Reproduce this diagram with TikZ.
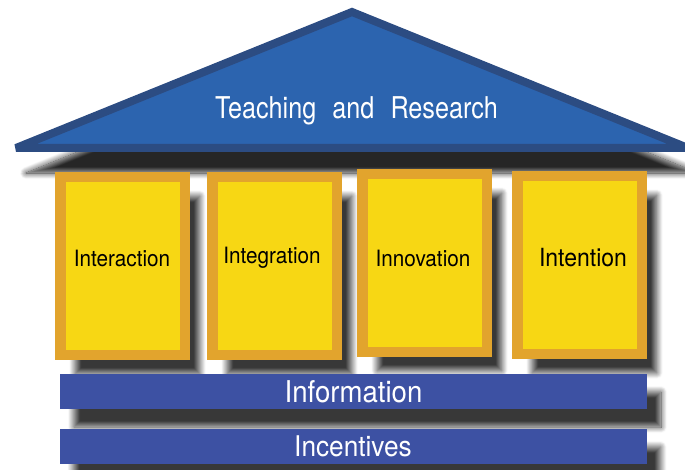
\documentclass[tikz,border=0pt]{standalone}
\usepackage{fontspec}
\usetikzlibrary{shadows.blur}
\newfontfamily\rooffont{TeX Gyre Heros}[FakeStretch=0.84,WordSpace=2.3]
\newfontfamily\pillarfont{TeX Gyre Heros}[FakeStretch=0.92]
\definecolor{roofblue}{RGB}{44,100,175}
\definecolor{roofedge}{RGB}{44,76,130}
\definecolor{pillarorange}{RGB}{226,164,45}
\definecolor{pillaryellow}{RGB}{247,215,20}
\definecolor{barblue}{RGB}{61,81,163}

\tikzset{
  roofshadow/.style={blur shadow={shadow xshift=10pt, shadow yshift=-25pt, shadow blur radius=6pt, shadow blur steps=12, shadow opacity=85}},
  barshadow/.style={blur shadow={shadow xshift=14pt, shadow yshift=-18pt, shadow blur radius=6pt, shadow blur steps=12, shadow opacity=78}},
  pillarshadow/.style={blur shadow={shadow xshift=15pt, shadow yshift=-19pt, shadow blur radius=6pt, shadow blur steps=12, shadow opacity=78}},
  pillar/.style={pillarshadow, draw=pillarorange, line width=10.5pt, fill=pillaryellow, minimum width=124.5pt, minimum height=177.5pt, inner sep=0pt},
  pillarlabel/.style={anchor=base, font=\pillarfont\fontsize{22.5}{27}\selectfont},
  bar/.style={barshadow, fill=barblue, minimum width=587pt, minimum height=35pt, inner sep=0pt, text=white, font=\pillarfont\fontsize{30}{36}\selectfont},
}

\begin{document}
\begin{tikzpicture}[x=1pt, y=-1pt]
\useasboundingbox (0,0) rectangle (685,470);

% Roof
\draw[roofshadow, draw=roofedge, fill=roofblue, line width=8pt, line join=miter, miter limit=2]
  (16,148) -- (352,12) -- (688,148) -- cycle;
\node[anchor=base, text=white, font=\rooffont\fontsize{30}{36}\selectfont] (roof) at (356.5,119) {Teaching and Research};

% Pillars
\node[pillar] (interaction) at (122.5,266) {};
\node[pillar] (integration) at (274.5,266) {};
\node[pillar] (innovation) at (424.5,263) {};
\node[pillar] (intention) at (579.5,265) {};
\node[pillarlabel] (interactionlabel) at (122,266) {Interaction};
\node[pillarlabel] (integrationlabel) at (272,264) {Integration};
\node[pillarlabel] (innovationlabel) at (423,266) {Innovation};
\node[pillarlabel, font=\pillarfont\fontsize{25}{30}\selectfont] (intentionlabel) at (583,266.5) {Intention};

% Foundation
\node[bar] (information) at (353.5,391.5) {Information};
\node[bar, font=\pillarfont\fontsize{28.5}{34}\selectfont] (incentives) at (353,446.5) {Incentives};
\end{tikzpicture}
\end{document}
